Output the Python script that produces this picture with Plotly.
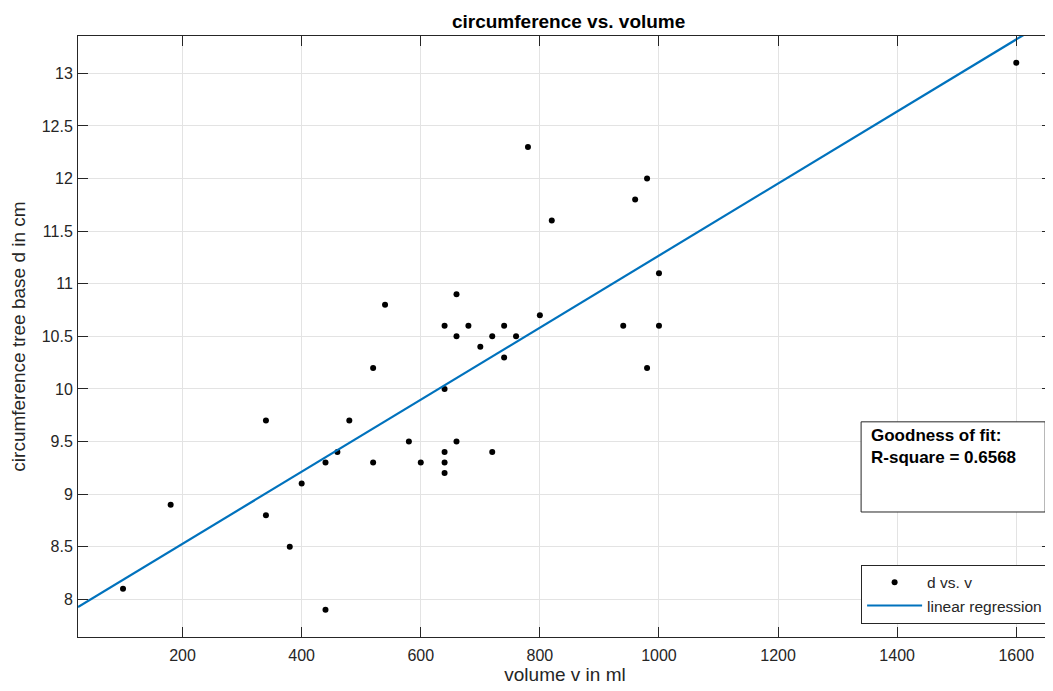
import numpy as np
import plotly.graph_objects as go

volume = [100, 180, 340, 340, 380, 400, 440, 440, 460, 480, 520, 520, 540, 580, 600,
          640, 640, 640, 640, 640, 660, 660, 660, 680, 700, 720, 720, 740, 740, 760,
          780, 800, 820, 940, 960, 980, 980, 1000, 1000, 1600]
circumference = [8.1, 8.9, 9.7, 8.8, 8.5, 9.1, 9.3, 7.9, 9.4, 9.7, 9.3, 10.2, 10.8, 9.5, 9.3,
                 9.4, 9.3, 9.2, 10.0, 10.6, 9.5, 10.5, 10.9, 10.6, 10.4, 9.4, 10.5, 10.6, 10.3, 10.5,
                 12.3, 10.7, 11.6, 10.6, 11.8, 12.0, 10.2, 11.1, 10.6, 13.1]

x_range = [24.4, 1660]
y_range = [7.642, 13.355]
x_ticks = [200, 400, 600, 800, 1000, 1200, 1400, 1600]
y_ticks = [8, 8.5, 9, 9.5, 10, 10.5, 11, 11.5, 12, 12.5, 13]

slope, intercept = np.polyfit(volume, circumference, 1)
fit_x = np.array(x_range)
fit_y = slope * fit_x + intercept

FONT = "Liberation Sans, Arial"
DARK = "#262626"

fig = go.Figure()
fig.add_trace(go.Scatter(x=volume, y=circumference, mode="markers", name="d vs. v",
                         marker=dict(color="black", size=6)))
fig.add_trace(go.Scatter(x=fit_x, y=fit_y, mode="lines", name="linear regression",
                         line=dict(color="#0072BD", width=2.2)))
# invisible carrier trace for the tick-mark overlay axes
fig.add_trace(go.Scatter(x=volume, y=circumference, mode="markers", xaxis="x2", yaxis="y2",
                         marker=dict(opacity=0), showlegend=False, hoverinfo="skip"))

label_axis = dict(showgrid=True, gridcolor="#e3e3e3", gridwidth=1, zeroline=False,
                  showline=True, linecolor=DARK, linewidth=1, mirror=True, ticks="",
                  tickfont=dict(family=FONT, size=16, color=DARK))
tick_axis = dict(showgrid=False, zeroline=False, showline=True, linecolor=DARK, linewidth=1,
                 showticklabels=False, ticks="inside", ticklen=10, tickcolor=DARK, tickwidth=1,
                 mirror="allticks")

fig.update_layout(
    xaxis=dict(range=x_range, tickvals=x_ticks, ticklabelstandoff=4,
               title=dict(text="volume v in ml", font=dict(family=FONT, size=19, color=DARK), standoff=4),
               **label_axis),
    yaxis=dict(range=y_range, tickvals=y_ticks, ticktext=[f"{t:g}" for t in y_ticks], ticklabelstandoff=1,
               title=dict(text="circumference tree base d in cm", font=dict(family=FONT, size=19, color=DARK),
                          standoff=12),
               **label_axis),
    xaxis2=dict(range=x_range, tickvals=x_ticks, overlaying="x", anchor="y", side="bottom", **tick_axis),
    yaxis2=dict(range=y_range, tickvals=y_ticks, overlaying="y", anchor="x", side="left", **tick_axis),
)

fig.add_shape(type="rect", xref="paper", yref="paper", x0=0.804, x1=0.993, y0=0.208, y1=0.358,
              line=dict(color=DARK, width=1), fillcolor="white", layer="above")
fig.add_annotation(xref="paper", yref="paper", x=0.812, y=0.354, xanchor="left", yanchor="top",
                   text="<b>Goodness of fit:</b><br><b>R-square = 0.6568</b>", showarrow=False,
                   align="left", font=dict(family=FONT, size=17, color="black"))

fig.update_layout(
    width=1045, height=683,
    margin=dict(l=70, r=1, t=28, b=54),
    paper_bgcolor="white", plot_bgcolor="white",
    title=dict(text="<b>circumference vs. volume</b>", x=0.5365, xanchor="center", y=0.981, yanchor="middle",
               font=dict(family=FONT, size=19, color="black")),
    legend=dict(x=0.996, xanchor="right", y=0.022, yanchor="bottom", bgcolor="white",
                bordercolor=DARK, borderwidth=1, itemwidth=55,
                font=dict(family=FONT, size=15.5, color=DARK),
                tracegroupgap=0),
    showlegend=True,
)

fig.write_html("out.html")
